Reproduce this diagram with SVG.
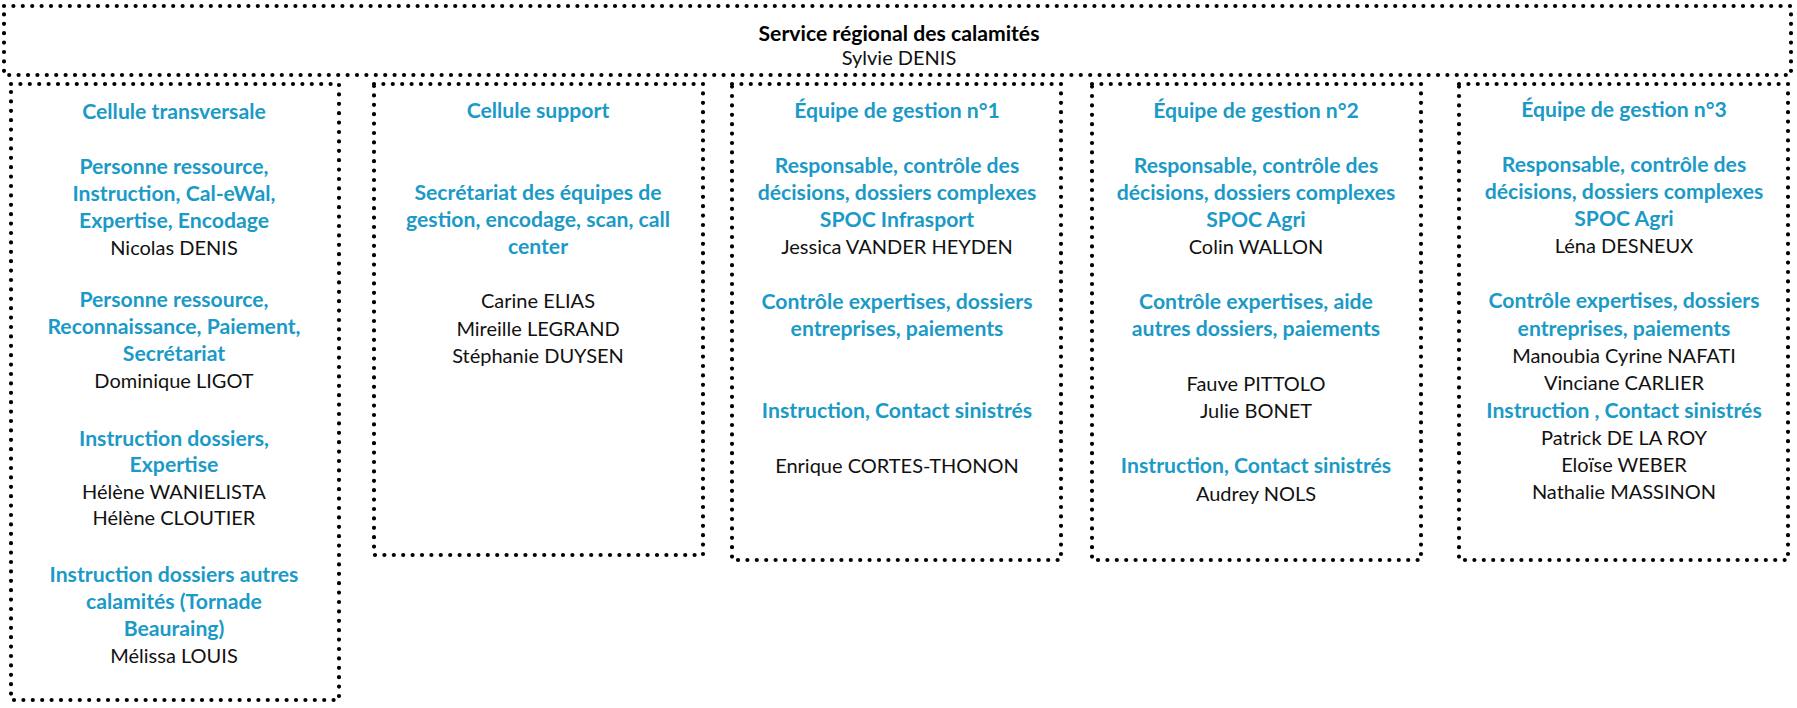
<svg xmlns="http://www.w3.org/2000/svg" width="1797" height="708" viewBox="0 0 1797 708">
<style>
.box{fill:none;stroke:#000;stroke-width:4.2;stroke-linecap:round;stroke-dasharray:0 9.4}
text{font-family:Lato,"Liberation Sans",sans-serif;font-size:20px;text-anchor:middle}
.h{fill:#1b9ac7;font-weight:bold;font-size:21.2px}
.n{fill:#111}
.t{fill:#000;font-weight:bold;font-size:21.2px}
</style>
<rect width="1797" height="708" fill="#fff"/>
<g id="service">
<rect class="box" x="4" y="6" width="1787" height="69"/>
<text class="t" x="899" y="41">Service régional des calamités</text>
<text class="n" x="899" y="65">Sylvie DENIS</text>
</g>
<g id="cellule-transversale">
<rect class="box" x="11" y="84" width="328" height="616"/>
<text class="h" x="174" y="118.5">Cellule transversale</text>
<text class="h" x="174" y="173.5">Personne ressource,</text>
<text class="h" x="174" y="200.5">Instruction, Cal-eWal,</text>
<text class="h" x="174" y="227.5">Expertise, Encodage</text>
<text class="n" x="174" y="254.5">Nicolas DENIS</text>
<text class="h" x="174" y="306.5">Personne ressource,</text>
<text class="h" x="174" y="333.5">Reconnaissance, Paiement,</text>
<text class="h" x="174" y="360.5">Secrétariat</text>
<text class="n" x="174" y="387.5">Dominique LIGOT</text>
<text class="h" x="174" y="445.5">Instruction dossiers,</text>
<text class="h" x="174" y="472">Expertise</text>
<text class="n" x="174" y="498.5">Hélène WANIELISTA</text>
<text class="n" x="174" y="525">Hélène CLOUTIER</text>
<text class="h" x="174" y="581.5">Instruction dossiers autres</text>
<text class="h" x="174" y="608.5">calamités (Tornade</text>
<text class="h" x="174" y="635.5">Beauraing)</text>
<text class="n" x="174" y="662.5">Mélissa LOUIS</text>
</g>
<g id="cellule-support">
<rect class="box" x="374" y="84" width="329" height="471"/>
<text class="h" x="538" y="117.5">Cellule support</text>
<text class="h" x="538" y="200">Secrétariat des équipes de</text>
<text class="h" x="538" y="227.3">gestion, encodage, scan, call</text>
<text class="h" x="538" y="254">center</text>
<text class="n" x="538" y="308.3">Carine ELIAS</text>
<text class="n" x="538" y="335.8">Mireille LEGRAND</text>
<text class="n" x="538" y="363.2">Stéphanie DUYSEN</text>
</g>
<g id="equipe-1">
<rect class="box" x="732" y="84" width="329" height="476"/>
<text class="h" x="897" y="118">Équipe de gestion n°1</text>
<text class="h" x="897" y="172.5">Responsable, contrôle des</text>
<text class="h" x="897" y="199.8">décisions, dossiers complexes</text>
<text class="h" x="897" y="227.1">SPOC Infrasport</text>
<text class="n" x="897" y="254.4">Jessica VANDER HEYDEN</text>
<text class="h" x="897" y="309">Contrôle expertises, dossiers</text>
<text class="h" x="897" y="336.3">entreprises, paiements</text>
<text class="h" x="897" y="418.3">Instruction, Contact sinistrés</text>
<text class="n" x="897" y="473.3">Enrique CORTES-THONON</text>
</g>
<g id="equipe-2">
<rect class="box" x="1092" y="84" width="329" height="476"/>
<text class="h" x="1256" y="118">Équipe de gestion n°2</text>
<text class="h" x="1256" y="172.5">Responsable, contrôle des</text>
<text class="h" x="1256" y="199.8">décisions, dossiers complexes</text>
<text class="h" x="1256" y="227.1">SPOC Agri</text>
<text class="n" x="1256" y="254.4">Colin WALLON</text>
<text class="h" x="1256" y="309">Contrôle expertises, aide</text>
<text class="h" x="1256" y="336.3">autres dossiers, paiements</text>
<text class="n" x="1256" y="391">Fauve PITTOLO</text>
<text class="n" x="1256" y="418.3">Julie BONET</text>
<text class="h" x="1256" y="473.3">Instruction, Contact sinistrés</text>
<text class="n" x="1256" y="500.6">Audrey NOLS</text>
</g>
<g id="equipe-3">
<rect class="box" x="1459" y="84" width="329" height="476"/>
<text class="h" x="1624" y="117">Équipe de gestion n°3</text>
<text class="h" x="1624" y="171.5">Responsable, contrôle des</text>
<text class="h" x="1624" y="198.8">décisions, dossiers complexes</text>
<text class="h" x="1624" y="226.1">SPOC Agri</text>
<text class="n" x="1624" y="253.4">Léna DESNEUX</text>
<text class="h" x="1624" y="308.3">Contrôle expertises, dossiers</text>
<text class="h" x="1624" y="335.6">entreprises, paiements</text>
<text class="n" x="1624" y="362.9">Manoubia Cyrine NAFATI</text>
<text class="n" x="1624" y="390.2">Vinciane CARLIER</text>
<text class="h" x="1624" y="417.5">Instruction , Contact sinistrés</text>
<text class="n" x="1624" y="444.8">Patrick DE LA ROY</text>
<text class="n" x="1624" y="472.1">Eloïse WEBER</text>
<text class="n" x="1624" y="499.4">Nathalie MASSINON</text>
</g>
<g id="connectors"></g>
</svg>
